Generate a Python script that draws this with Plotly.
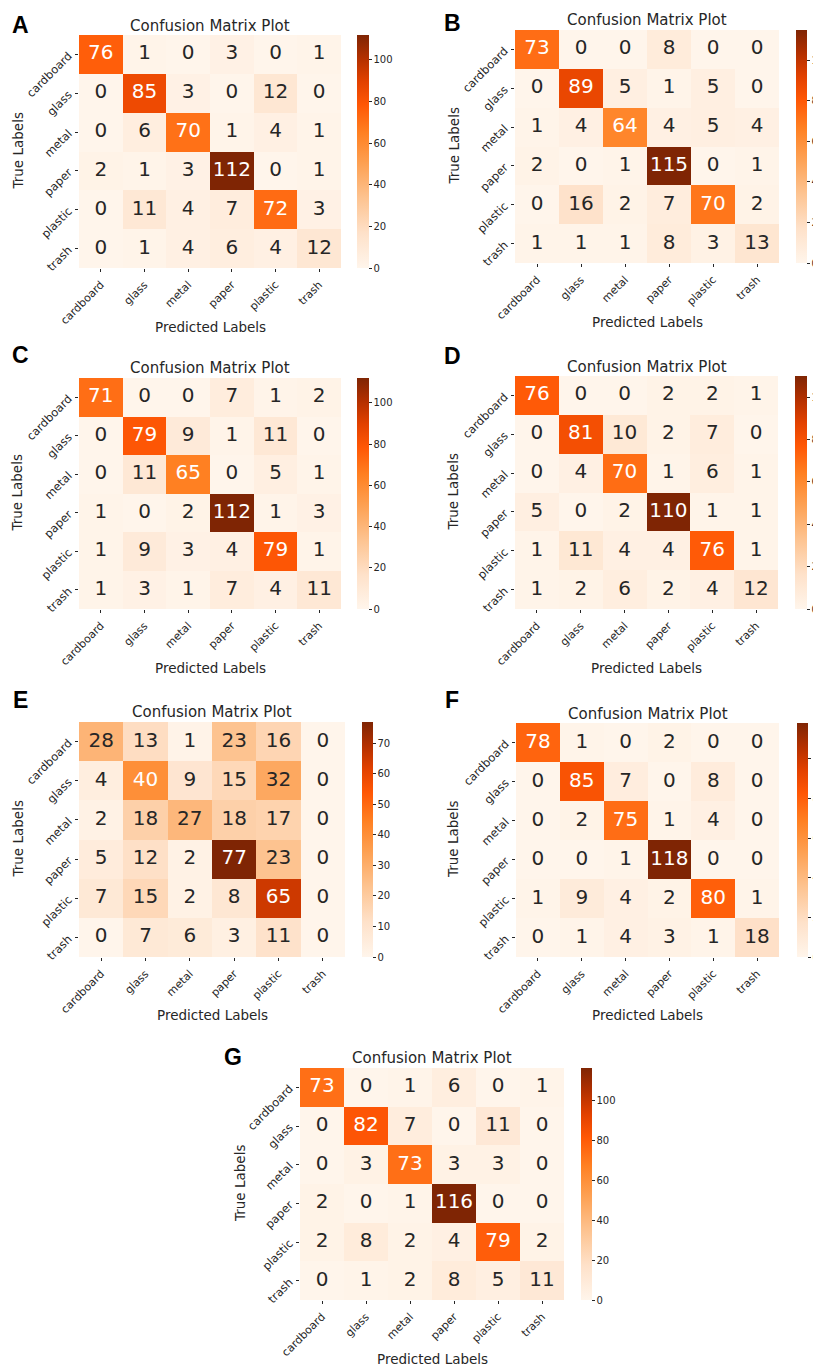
import plotly.graph_objects as go

# ---------------- data ----------------
categories = ["cardboard", "glass", "metal", "paper", "plastic", "trash"]

cm_A = [[76, 1, 0, 3, 0, 1], [0, 85, 3, 0, 12, 0], [0, 6, 70, 1, 4, 1],
        [2, 1, 3, 112, 0, 1], [0, 11, 4, 7, 72, 3], [0, 1, 4, 6, 4, 12]]
cm_B = [[73, 0, 0, 8, 0, 0], [0, 89, 5, 1, 5, 0], [1, 4, 64, 4, 5, 4],
        [2, 0, 1, 115, 0, 1], [0, 16, 2, 7, 70, 2], [1, 1, 1, 8, 3, 13]]
cm_C = [[71, 0, 0, 7, 1, 2], [0, 79, 9, 1, 11, 0], [0, 11, 65, 0, 5, 1],
        [1, 0, 2, 112, 1, 3], [1, 9, 3, 4, 79, 1], [1, 3, 1, 7, 4, 11]]
cm_D = [[76, 0, 0, 2, 2, 1], [0, 81, 10, 2, 7, 0], [0, 4, 70, 1, 6, 1],
        [5, 0, 2, 110, 1, 1], [1, 11, 4, 4, 76, 1], [1, 2, 6, 2, 4, 12]]
cm_E = [[28, 13, 1, 23, 16, 0], [4, 40, 9, 15, 32, 0], [2, 18, 27, 18, 17, 0],
        [5, 12, 2, 77, 23, 0], [7, 15, 2, 8, 65, 0], [0, 7, 6, 3, 11, 0]]
cm_F = [[78, 1, 0, 2, 0, 0], [0, 85, 7, 0, 8, 0], [0, 2, 75, 1, 4, 0],
        [0, 0, 1, 118, 0, 0], [1, 9, 4, 2, 80, 1], [0, 1, 4, 3, 1, 18]]
cm_G = [[73, 0, 1, 6, 0, 1], [0, 82, 7, 0, 11, 0], [0, 3, 73, 3, 3, 0],
        [2, 0, 1, 116, 0, 0], [2, 8, 2, 4, 79, 2], [0, 1, 2, 8, 5, 11]]

panel_letters = ["A", "B", "C", "D", "E", "F", "G"]
matrices = [cm_A, cm_B, cm_C, cm_D, cm_E, cm_F, cm_G]
title_text = "Confusion Matrix Plot"
x_title = "Predicted Labels"
y_title = "True Labels"

# ---------------- layout (reference pixel geometry) ----------------
OFF = 8              # browser body margin
W, H = 821 - OFF, 1367 - OFF

# hx0,hx1,hy0,hy1, cbx0,cbx1, title_y, letter_x,letter_y, ytitle_x, xtitle_y
geom = [
    (79, 341, 35, 268, 357, 369, 26, 21, 25, 17, 327),
    (515, 779, 30, 263, 796, 807, 20, 452, 23, 453, 322),
    (79, 341, 378, 609, 357, 369, 368, 20, 355, 17, 668),
    (515, 778, 376, 609, 795, 807, 367, 452, 356, 453, 668),
    (79, 345, 722, 957, 362, 373, 712, 20, 700, 17, 1015),
    (516, 779, 723, 957, 797, 808, 714, 452, 700, 453, 1015),
    (300, 564, 1068, 1300, 581, 592, 1058, 233, 1057, 240, 1359),
]

def px(x):
    return (x - OFF) / W

def py(y):
    return 1 - (y - OFF) / H

colorscale = [
    [0.0, "#fff5eb"], [0.15, "#fee1c9"], [0.3, "#fdc390"], [0.45, "#fda052"],
    [0.58, "#ff8022"], [0.7, "#ff5705"], [0.8, "#e24100"], [0.9, "#b33000"],
    [1.0, "#7f2504"],
]

DARK = "#262626"
FONT = "DejaVu Sans"

fig = go.Figure()
annotations = []
layout_axes = {}

for i, (letter, m, g) in enumerate(zip(panel_letters, matrices, geom)):
    hx0, hx1, hy0, hy1, cbx0, cbx1, ty, lx, ly, ytx, xty = g
    n = i + 1
    xa = "x" if n == 1 else f"x{n}"
    ya = "y" if n == 1 else f"y{n}"
    zmax = max(max(r) for r in m)
    dtick = 10 if zmax < 90 else 20

    fig.add_trace(go.Heatmap(
        z=m, x=categories, y=categories, xaxis=xa, yaxis=ya,
        zmin=0, zmax=zmax, colorscale=colorscale, hoverinfo="skip",
        colorbar=dict(
            x=px(cbx0), xanchor="left", xpad=0, ypad=0,
            y=(py(hy0) + py(hy1)) / 2, yanchor="middle",
            len=hy1 - hy0, lenmode="pixels",
            thickness=cbx1 - cbx0, thicknessmode="pixels",
            outlinewidth=0, ticks="outside", ticklen=3, tickwidth=1,
            tickcolor=DARK, dtick=dtick, tick0=0,
            tickfont=dict(family=FONT, size=10, color=DARK),
        ),
    ))

    tx, tyv, tt, tc = [], [], [], []
    for r, row in enumerate(m):
        for c, v in enumerate(row):
            tx.append(categories[c])
            tyv.append(categories[r])
            tt.append(str(v))
            tc.append("white" if v / zmax > 0.48 else DARK)
    fig.add_trace(go.Scatter(
        x=tx, y=tyv, text=tt, mode="text", xaxis=xa, yaxis=ya,
        textfont=dict(family=FONT, size=20, color=tc),
        hoverinfo="skip", showlegend=False,
    ))

    xkey = "xaxis" if n == 1 else f"xaxis{n}"
    ykey = "yaxis" if n == 1 else f"yaxis{n}"
    layout_axes[xkey] = dict(
        domain=[px(hx0), px(hx1)], anchor=ya, range=[-0.5, 5.5],
        showgrid=False, zeroline=False, showline=False,
        ticks="outside", ticklen=3, tickcolor=DARK, tickangle=-45,
        ticklabelstandoff=2,
        tickfont=dict(family=FONT, size=11, color=DARK),
    )
    layout_axes[ykey] = dict(
        domain=[py(hy1), py(hy0)], anchor=xa, range=[5.5, -0.5],
        showgrid=False, zeroline=False, showline=False,
        ticks="outside", ticklen=3, tickcolor=DARK, tickangle=-45,
        ticklabelstandoff=4,
        tickfont=dict(family=FONT, size=11.5, color=DARK),
    )

    annotations.append(dict(
        text=title_text, x=px((hx0 + hx1) / 2), y=py(ty), xref="paper", yref="paper",
        showarrow=False, xanchor="center", yanchor="middle",
        font=dict(family=FONT, size=15, color=DARK)))
    annotations.append(dict(
        text=x_title, x=px((hx0 + hx1) / 2), y=py(xty), xref="paper", yref="paper",
        showarrow=False, xanchor="center", yanchor="middle",
        font=dict(family=FONT, size=13.5, color=DARK)))
    annotations.append(dict(
        text=y_title, x=px(ytx), y=py((hy0 + hy1) / 2), xref="paper", yref="paper",
        showarrow=False, xanchor="center", yanchor="middle", textangle=-90,
        font=dict(family=FONT, size=13.5, color=DARK)))
    annotations.append(dict(
        text=f"<b>{letter}</b>", x=px(lx), y=py(ly), xref="paper", yref="paper",
        showarrow=False, xanchor="center", yanchor="middle",
        font=dict(family="Liberation Sans", size=23, color="black")))

fig.update_layout(
    width=W, height=H,
    margin=dict(l=0, r=0, t=0, b=0, autoexpand=False),
    paper_bgcolor="white", plot_bgcolor="white",
    showlegend=False, annotations=annotations,
    **layout_axes,
)

fig.write_html("out.html")
